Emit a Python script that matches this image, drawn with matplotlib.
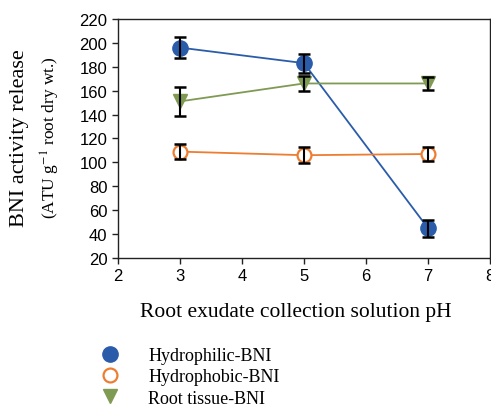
import matplotlib

matplotlib.use("Agg")
import matplotlib.pyplot as plt
from matplotlib.lines import Line2D

# data
ph = [3, 5, 7]
hydrophilic = [196, 183, 45]
hydrophilic_err = [8.5, 8, 7]
hydrophobic = [109, 106, 107]
hydrophobic_err = [6.5, 6.5, 6]
root_tissue = [151, 166, 166]
root_tissue_err = [12, 6, 5.5]

labels = ["Hydrophilic-BNI", "Hydrophobic-BNI", "Root tissue-BNI"]
blue = "#2A5CAA"
orange = "#ED7D31"
green = "#7F9A52"

serif = ["Liberation Serif", "DejaVu Serif"]
tick_font = ["Liberation Sans Narrow", "Liberation Sans", "DejaVu Sans"]

fig = plt.figure(figsize=(4.91, 4.06), dpi=100)
ax = fig.add_axes([0.240, 0.362, 0.758, 0.589])

ax.plot(ph, hydrophilic, color=blue, lw=1.3, marker="o", ms=11,
        mfc=blue, mec=blue, zorder=3)
ax.plot(ph, hydrophobic, color=orange, lw=1.3, marker="o", ms=10,
        mfc="white", mec=orange, mew=1.6, zorder=3)
ax.plot(ph, root_tissue, color=green, lw=1.3, marker="v", ms=10,
        mfc=green, mec=green, zorder=3)

for vals, errs in ((hydrophilic, hydrophilic_err), (hydrophobic, hydrophobic_err),
                   (root_tissue, root_tissue_err)):
    ax.errorbar(ph, vals, yerr=errs, fmt="none", ecolor="black", elinewidth=1.5,
                capsize=4, capthick=1.8, zorder=4)

ax.set_xlim(2, 8)
ax.set_ylim(20, 220)
ax.set_xticks(range(2, 9))
ax.set_yticks(range(20, 221, 20))
for lab in ax.get_xticklabels() + ax.get_yticklabels():
    lab.set_family(tick_font)
    lab.set_fontsize(12)
ax.tick_params(direction="out", length=4, width=1, color="#222222")
for side in ax.spines.values():
    side.set_color("#222222")
    side.set_linewidth(1)

ax.set_xlabel("Root exudate collection solution pH", family=serif, fontsize=15.5, labelpad=13)
ax.xaxis.label.set_x(0.478)

fig.text(0.040, 0.66, "BNI activity release", rotation=90, ha="center", va="center",
         family=serif, fontsize=16)
fig.text(0.103, 0.66, "(ATU g$^{-1}$ root dry wt.)", rotation=90, ha="center",
         va="center", family=serif, fontsize=12.5, math_fontfamily="stix")

handles = [
    Line2D([], [], ls="none", marker="o", ms=11, mfc=blue, mec=blue),
    Line2D([], [], ls="none", marker="o", ms=10, mfc="white", mec=orange, mew=1.6),
    Line2D([], [], ls="none", marker="v", ms=10, mfc=green, mec=green),
]
fig.legend(handles=handles, labels=labels, loc="upper left",
           bbox_to_anchor=(0.173, 0.160), frameon=False, prop={"family": serif, "size": 13},
           handletextpad=1.1, labelspacing=0.23, borderaxespad=0)

fig.savefig("out.png", dpi=100)
